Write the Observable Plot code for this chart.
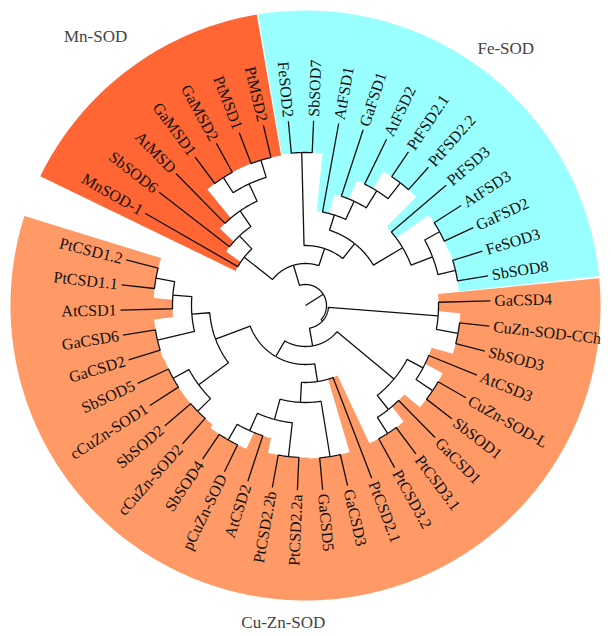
<!DOCTYPE html>
<html><head><meta charset="utf-8">
<script src="https://cdn.jsdelivr.net/npm/d3@7"></script>
<script src="https://cdn.jsdelivr.net/npm/@observablehq/plot@0.6"></script>
<style>html,body{margin:0;padding:0;background:#fff}#chart svg{display:block}</style>
</head><body><div id="chart"></div>
<script>
// ---- DATA ----
// Leaves, clockwise, per SOD family
const mnLeaves = ["MnSOD-1","SbSOD6","AtMSD","GaMSD1","GaMSD2","PtMSD1","PtMSD2"];
const mnParents = ["Mn","M2","M3","GaM","GaM","PtM","PtM"];
const feLeaves = ["FeSOD2","SbSOD7","AtFSD1","GaFSD1","AtFSD2","PtFSD2.1","PtFSD2.2","PtFSD3","AtFSD3","GaFSD2","FeSOD3","SbSOD8"];
const feParents = ["FeA","FeA","A1","A2","A3","A4","A4","B1","B3","B3","B4","B4"];
const cuznLeaves = ["GaCSD4","CuZn-SOD-CCh","SbSOD3","AtCSD3","CuZn-SOD-L","SbSOD1","GaCSD1","PtCSD3.1","PtCSD3.2","PtCSD2.1","GaCSD3","GaCSD5","PtCSD2.2a","PtCSD2.2b","AtCSD2","pCuZn-SOD","SbSOD4","cCuZn-SOD2","SbSOD2","cCuZn-SOD1","SbSOD5","GaCSD2","GaCSD6","AtCSD1","PtCSD1.1","PtCSD1.2"];
const cuznParents = ["CSD4","CSD4b","CSD4b","Q","Q2","Q2","R","R2","R2","X","Y1","Y1","Z1","Z1","Z2","Z3","Z3","W1","W1","W2","W2","U1","U1","V","V1","V1"];
const groupNames = ["Mn-SOD","Fe-SOD","Cu-Zn-SOD"];
const groupColors = ["#ff6633","#99ffff","#ff9966"];
// Internal nodes: [id, parent, distance from root (tree units)]
const nodeIds =     ["root","FeMn","Mn","M2","M3","M4","GaM","PtM","Fe","FeA","FeRest","A1","A2","A3","A4","B1","B2","B3","B4","CuZnAll","CSD4","CSD4b","CuZnRest","P","Q","Q2","R","R2","S","X","Y","Y1","Z","Z1","Z2","Z3","T","W","W1","W2","U","U1","V","V1"];
const nodeParents = [null,"root","FeMn","Mn","M2","M3","M4","M4","FeMn","Fe","Fe","FeRest","A1","A2","A3","FeRest","B1","B2","B2","root","CuZnAll","CSD4","CuZnAll","CuZnRest","P","Q","P","R","CuZnRest","S","X","Y","Y","Z","Z","Z2","S","T","W","W","T","U","U","V"];
const nodeDepths =  [21,42,78,96,115,134,152,152,60,153,79,95,115,135,155,113,136,153,154,23,133,155,41,115,133,153,133,152,59,77,97,153,118,152,137,155,96,133,151,151,114,152,133,152];

// ---- LAYOUT (angles in compass degrees, clockwise from north) ----
const slots = 46, startAngle = 299.9, tipR = 185, labelR = 189, outerR = 295;
const step = 360 / slots;
const titlePlace = {"Mn-SOD": [322, 341], "Fe-SOD": [37.9, 326], "Cu-Zn-SOD": [184, 318]};

const leaves = [];
[[mnLeaves, mnParents, "Mn-SOD"], [feLeaves, feParents, "Fe-SOD"], [cuznLeaves, cuznParents, "Cu-Zn-SOD"]]
  .forEach(([names, parents, g]) => names.forEach((n, i) => leaves.push({id: n, name: n, parent: parents[i], group: g, r: tipR, children: []})));
leaves.forEach((d, i) => d.angle = startAngle + i * step);

const nodes = new Map(nodeIds.map((id, i) => [id, {id, parent: nodeParents[i], r: nodeDepths[i], children: []}]));
for (const n of nodes.values()) if (n.parent) nodes.get(n.parent).children.push(n);
for (const l of leaves) nodes.get(l.parent).children.push(l);
function angleOf(n) {
  if (n.angle != null) return n.angle;
  const a = n.children.map(angleOf);
  return n.angle = (Math.min(...a) + Math.max(...a)) / 2;
}
const root = nodes.get("root");
angleOf(root);

const rad = a => a * Math.PI / 180;
const px = (r, a) => r * Math.sin(rad(a));
const py = (r, a) => r * Math.cos(rad(a));

// Branch paths: arc at parent radius, then radial segment out to the child
const linkPts = [];
const all = [...nodes.values(), ...leaves];
for (const n of all) {
  if (!n.parent) {
    linkPts.push({id: n.id, x: 0, y: 0}, {id: n.id, x: px(n.r, n.angle), y: py(n.r, n.angle)});
    continue;
  }
  const p = nodes.get(n.parent);
  const a0 = p.angle, a1 = n.angle;
  const k = Math.max(1, Math.ceil(Math.abs(a1 - a0) / 0.5));
  for (let j = 0; j <= k; j++) {
    const a = a0 + (a1 - a0) * j / k;
    linkPts.push({id: n.id, x: px(p.r, a), y: py(p.r, a)});
  }
  linkPts.push({id: n.id, x: px(n.r, a1), y: py(n.r, a1)});
}

// Family background: one wedge per leaf from its parent node out to the rim
const wedgePts = [];
for (const g of groupNames) {
  const ls = leaves.filter(d => d.group === g);
  const h = step / 2;
  const a0 = ls[0].angle - h, a1 = ls[ls.length - 1].angle + h;
  for (let a = a0; a <= a1 + 1e-9; a += 0.5) wedgePts.push({group: g, x: px(outerR, a), y: py(outerR, a)});
  for (let i = ls.length - 1; i >= 0; i--) {
    const r = nodes.get(ls[i].parent).r;
    for (let a = ls[i].angle + h; a >= ls[i].angle - h - 1e-9; a -= 0.5) wedgePts.push({group: g, x: px(r, a), y: py(r, a)});
  }
}

const labels = leaves.map(d => {
  const c = ((d.angle % 360) + 360) % 360;
  const right = c < 180;
  return {name: d.name, x: px(labelR, d.angle), y: py(labelR, d.angle), rotate: right ? c - 90 : c - 270, right};
});
const titles = groupNames.map(g => ({name: g, x: px(titlePlace[g][1], titlePlace[g][0]), y: py(titlePlace[g][1], titlePlace[g][0])}));

const font = "'Liberation Serif', 'Times New Roman', serif";
const chart = Plot.plot({
  width: 611, height: 636,
  margin: 0,
  x: {domain: [-305, 306], axis: null},
  y: {domain: [-331, 305], axis: null},
  style: {background: "#fff"},
  marks: [
    ...groupNames.map((g, i) => Plot.line(wedgePts.filter(d => d.group === g), {x: "x", y: "y", fill: groupColors[i], stroke: "none", curve: "linear-closed"})),
    Plot.line(linkPts, {x: "x", y: "y", z: "id", stroke: "#111", strokeWidth: 1.3, strokeLinejoin: "miter", strokeLinecap: "butt"}),
    Plot.text(labels.filter(d => d.right), {x: "x", y: "y", text: "name", rotate: "rotate", textAnchor: "start", fontSize: 16, fontFamily: font, fill: "#111"}),
    Plot.text(labels.filter(d => !d.right), {x: "x", y: "y", text: "name", rotate: "rotate", textAnchor: "end", fontSize: 16, fontFamily: font, fill: "#111"}),
    Plot.text(titles, {x: "x", y: "y", text: "name", fontSize: 17, fontFamily: font, fill: "#444"})
  ]
});
document.getElementById("chart").appendChild(chart);
</script>
</body></html>
